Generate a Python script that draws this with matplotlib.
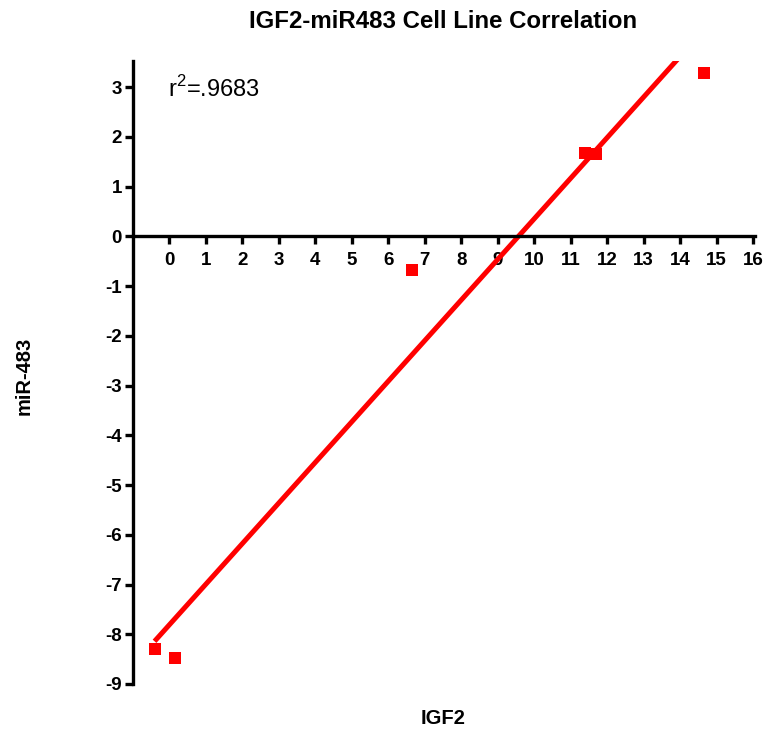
import numpy as np
import matplotlib
matplotlib.use("Agg")
import matplotlib.pyplot as plt

# Data
igf2 = [-0.41, 0.16, 6.65, 11.40, 11.69, 14.64]
mir483 = [-8.30, -8.48, -0.67, 1.68, 1.65, 3.29]
xticks = list(range(0, 17))
yticks = list(range(-9, 4))
title = "IGF2-miR483 Cell Line Correlation"
r2_label = r"r$^{2}$=.9683"

plt.rcParams['font.family'] = ['Liberation Sans', 'DejaVu Sans']
plt.rcParams['axes.unicode_minus'] = False
plt.rcParams['mathtext.fontset'] = 'custom'
plt.rcParams['mathtext.rm'] = 'Liberation Sans'

fig = plt.figure(figsize=(7.68, 7.32), dpi=100)
ax = fig.add_axes([0.1732, 0.0656, 0.8098, 0.8514])

x = np.array(igf2)
y = np.array(mir483)
slope, intercept = np.polyfit(x, y, 1)
xl = np.array([x.min(), x.max()])
ax.plot(xl, slope * xl + intercept, color='#ff0000', lw=3.6, solid_capstyle='butt', zorder=2)
ax.scatter(x, y, marker='s', s=72, color='#ff0000', linewidths=0, zorder=3)

ax.set_xlim(-1, 16.05)
ax.set_ylim(-9, 3.53)

ax.spines['top'].set_visible(False)
ax.spines['right'].set_visible(False)
ax.spines['bottom'].set_position(('data', 0))
for s in ('left', 'bottom'):
    ax.spines[s].set_linewidth(2.4)
ax.spines['left'].set_bounds(-9, 3.53)

ax.set_xticks(xticks)
ax.set_yticks(yticks)
ax.tick_params(axis='both', width=2.4, length=5.5, labelsize=13.5)
ax.tick_params(axis='x', pad=5.5)
ax.tick_params(axis='y', pad=2.5)
for lab in ax.get_xticklabels() + ax.get_yticklabels():
    lab.set_fontweight('bold')

ax.text(-0.05, 2.96, r2_label, fontsize=17, ha='left', va='center')

fig.text(0.577, 0.970, title, fontsize=17.3, fontweight='bold', ha='center', va='center')
fig.text(0.577, 0.019, "IGF2", fontsize=14.5, fontweight='bold', ha='center', va='center')
fig.text(0.031, 0.486, "miR-483", fontsize=14.5, fontweight='bold', ha='center', va='center', rotation=90)

fig.savefig("out.png", dpi=100)
